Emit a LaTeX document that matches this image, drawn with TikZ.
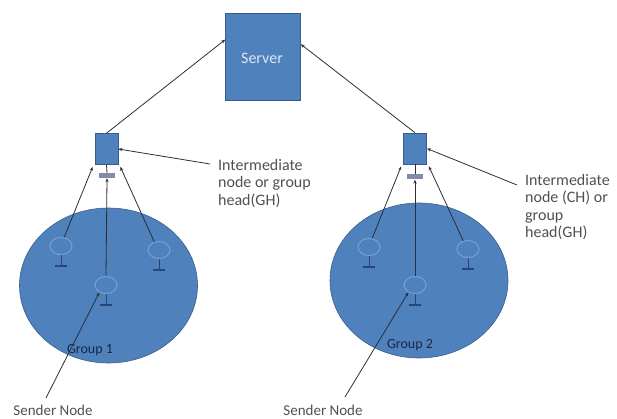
\documentclass[tikz,border=0pt]{standalone}
\usepackage{fontspec}
\setmainfont{Carlito}
\usetikzlibrary{arrows.meta,shapes.geometric}

\definecolor{boxblue}{RGB}{79,129,189}
\definecolor{rimblue}{RGB}{56,93,138}
\definecolor{nodering}{RGB}{120,160,212}
\definecolor{standblue}{RGB}{40,70,120}
\definecolor{barcol}{RGB}{128,140,168}
\definecolor{wire}{RGB}{45,45,55}
\definecolor{labeltext}{RGB}{80,80,80}

\tikzset{
  x=1pt, y=-1pt,
  tip/.style={-{Stealth[length=4pt,width=3.2pt]}},
  wirestyle/.style={draw=wire, line width=0.8pt},
  serverbox/.style={rectangle, fill=boxblue, draw=rimblue, line width=0.6pt,
    minimum width=75pt, minimum height=87pt, inner sep=0pt},
  headbox/.style={rectangle, fill=boxblue, draw=rimblue, line width=0.6pt,
    minimum width=23pt, minimum height=31pt, inner sep=0pt},
  headbar/.style={rectangle, fill=barcol, draw=none,
    minimum width=16pt, minimum height=5pt, inner sep=0pt},
  groupzone/.style={ellipse, fill=boxblue, draw=rimblue, line width=0.6pt,
    minimum width=178pt, minimum height=155pt, inner sep=0pt},
  member/.style={ellipse, fill=boxblue, draw=nodering, line width=1pt,
    minimum width=22pt, minimum height=17pt, inner sep=0pt},
  caption/.style={font={\fontsize{16}{17.5}\selectfont}, text=labeltext,
    align=left, inner sep=0pt},
  sendcaption/.style={font={\fontsize{15}{17.5}\selectfont}, text=labeltext,
    inner sep=0pt},
  groupname/.style={font={\fontsize{14}{16}\selectfont}, text={rgb,255:red,25;green,40;blue,70}, inner sep=0pt},
}

% small stand drawn under a member node
\newcommand{\memberstand}[1]{%
  \draw[standblue, line width=0.9pt] (#1.south) -- ++(0,11) coordinate (#1-foot);
  \draw[standblue, line width=1.4pt] ([xshift=-6pt]#1-foot) -- ([xshift=6pt]#1-foot);
}

\begin{document}
\begin{tikzpicture}
\useasboundingbox (0,0) rectangle (617,419);

% server
\node[serverbox] (server) at (263,56.5) {};
\node[font={\fontsize{16}{18}\selectfont}, text={rgb,255:red,220;green,230;blue,242}] (servertext) at (262,58) {Server};

% group zones
\node[groupzone] (groupL) at (108.5,285.5) {};
\node[groupzone] (groupR) at (419,280.5) {};

% group heads
\node[headbox] (ghL) at (106.5,149) {};
\node[headbar] (barL) at (107,175.5) {};
\node[headbox] (ghR) at (415,148.5) {};
\node[headbar] (barR) at (415,177) {};

% members of group 1
\node[member] (nL1) at (61,246) {};
\node[member] (nL2) at (159,250) {};
\node[member] (nL3) at (106,285) {};
\memberstand{nL1}
\memberstand{nL2}
\memberstand{nL3}

% members of group 2
\node[member] (nR1) at (369,247) {};
\node[member] (nR2) at (468,249) {};
\node[member] (nR3) at (415,285) {};
\memberstand{nR1}
\memberstand{nR2}
\memberstand{nR3}

% group names
\node[groupname] (g1) at (90,350) {Group 1};
\node[groupname] (g2) at (410,345) {Group 2};

% heads to server
\draw[wirestyle, tip] (ghL.north) -- (server.156);
\draw[wirestyle, tip] (ghR.north) -- (server.18);

% members to group head 1
\draw[wirestyle, tip] (nL1.70) -- ([xshift=-2pt,yshift=-2pt]ghL.south west);
\draw[wirestyle, tip] (nL2.120) -- ([xshift=2pt,yshift=-2pt]ghL.south east);
\draw[wirestyle, tip] (nL3.north) -- (barL.south);
\draw[wirestyle] (barL.north) -- (ghL.south);

% members to group head 2
\draw[wirestyle, tip] (nR1.70) -- ([xshift=-2pt,yshift=-2pt]ghR.south west);
\draw[wirestyle, tip] (nR2.120) -- ([xshift=2pt,yshift=-2pt]ghR.south east);
\draw[wirestyle, tip] (nR3.north) -- (barR.south);
\draw[wirestyle] (barR.north) -- (ghR.south);

% head captions
\node[caption, anchor=north west] (capL) at (218,159) {Intermediate\\node or group\\head(GH)};
\coordinate (capLpt) at (210,164);
\draw[wirestyle, tip] (capLpt) -- (ghL.east);

\node[caption, anchor=north west] (capR) at (525,174) {Intermediate\\node (CH) or\\group\\head(GH)};
\coordinate (capRpt) at (517,185);
\draw[wirestyle, tip] (capRpt) -- (ghR.east);

% sender captions
\node[sendcaption] (sendL) at (53,410) {Sender Node};
\node[sendcaption] (sendR) at (323,410) {Sender Node};
\coordinate (sLpt) at (46,398);
\coordinate (sRpt) at (345,397);
\draw[wirestyle, tip] (sLpt) -- (nL3.228);
\draw[wirestyle, tip] (sRpt) -- (nR3.228);
\end{tikzpicture}
\end{document}
